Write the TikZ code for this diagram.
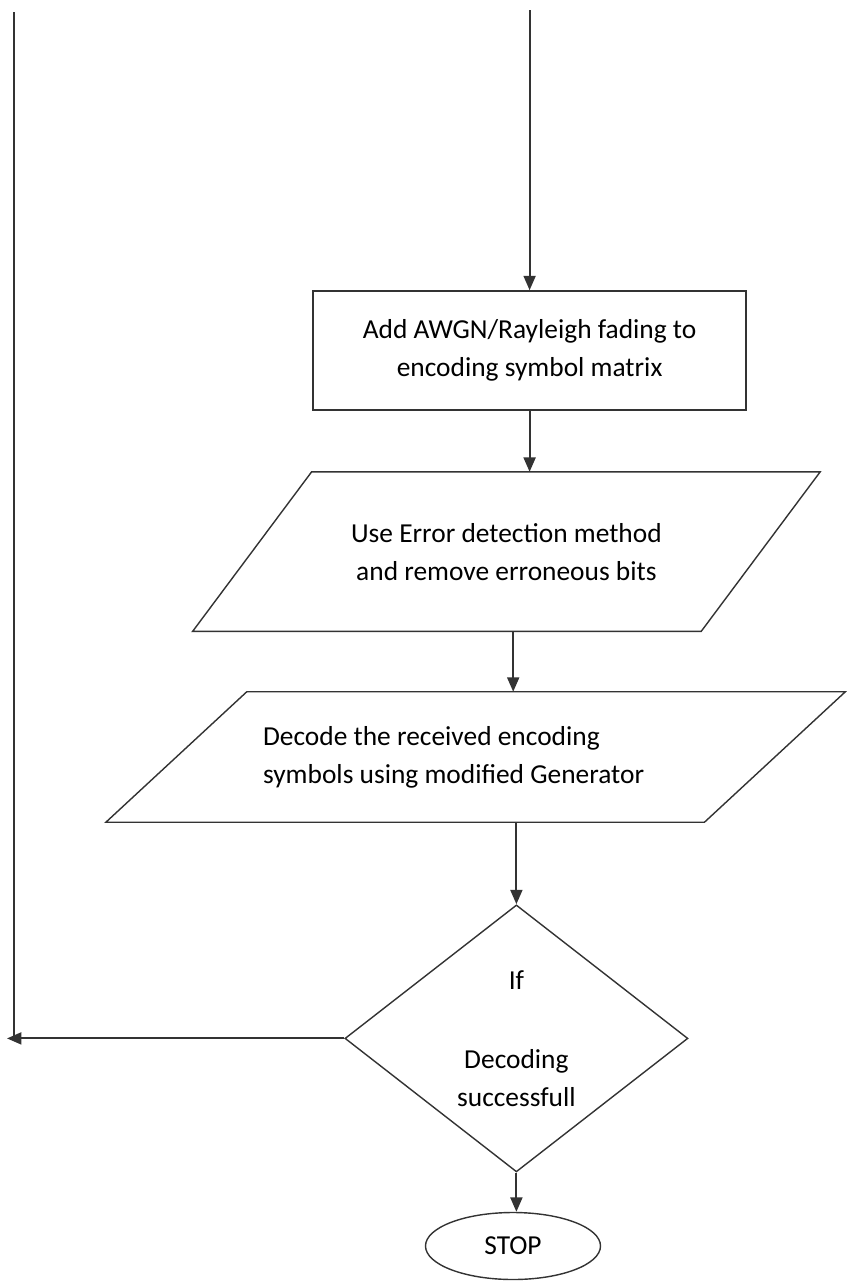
\documentclass[tikz,border=0pt]{standalone}
\usepackage{fontspec}
\setmainfont{Carlito}
\usetikzlibrary{shapes.geometric,arrows.meta}

\begin{document}
\begin{tikzpicture}[
  every node/.style={font=\fontsize{19.5}{27}\selectfont},
  outline/.style={draw=black!80,line width=1pt},
  box/.style={outline,align=center,inner sep=0pt},
  iobox/.style={align=center,inner sep=0pt},
  arr/.style={draw=black!80,line width=1.4pt,-{Triangle[length=0.36cm,width=0.3cm]}}]
  \useasboundingbox (0,0) rectangle (21.15,-32.175);
  \coordinate (entry) at (13.24,-0.25);
  \coordinate (looptop) at (0.35,-0.3);
  \node[box,minimum width=10.825cm,minimum height=2.975cm] (noise) at (13.24,-8.76)
    {Add AWGN/Rayleigh fading to\\encoding symbol matrix};
  \node[iobox,minimum width=15.675cm,minimum height=3.975cm] (detect) at (12.66,-13.79)
    {Use Error detection method\\and remove erroneous bits};
  \node[iobox,align=flush left,text width=10.625cm,inner xsep=3.925cm,
        minimum height=3.25cm] (decode) at (11.89,-18.925)
    {Decode the received encoding\\symbols using modified Generator};
  \node[box,diamond,minimum width=8.575cm,minimum height=6.675cm] (check) at (12.91,-25.96)
    {If\\[1.02cm]Decoding\\successfull};
  \node[box,ellipse,minimum width=4.375cm,minimum height=1.675cm] (stop) at (12.825,-31.15) {STOP};
  \coordinate (loopend) at (0.175,-25.96);
  % parallelogram outlines
  \draw[outline] (detect.south west) -- ([xshift=-2.975cm]detect.south east)
    -- (detect.north east) -- ([xshift=2.975cm]detect.north west) -- cycle;
  \draw[outline] (decode.south west) -- ([xshift=-3.525cm]decode.south east)
    -- (decode.north east) -- ([xshift=3.525cm]decode.north west) -- cycle;
  % arrows
  \draw[arr] (entry) -- (noise.north);
  \draw[arr] (noise.south) -- (noise.south |- detect.north);
  \draw[arr] ([xshift=0.17cm]detect.south) -- ([xshift=0.17cm]detect.south |- decode.north);
  \draw[arr] (decode.south -| check.north) -- (check.north);
  \draw[arr] (check.south) -- (check.south |- stop.north);
  \draw[arr] (check.west) -- (loopend);
  \draw[draw=black!80,line width=1.4pt] (looptop) -- (looptop |- loopend);
\end{tikzpicture}
\end{document}
